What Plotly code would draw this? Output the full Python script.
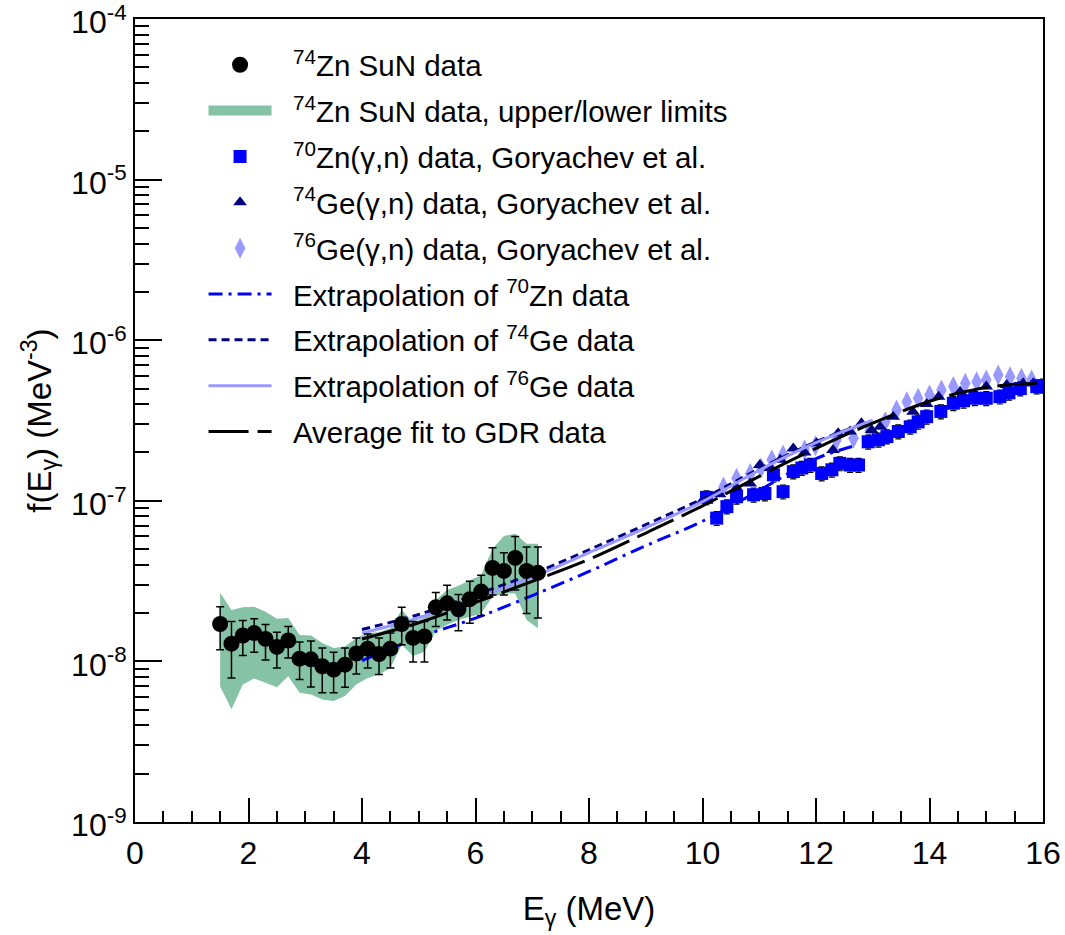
import plotly.graph_objects as go

# ---------------- data ----------------
# 74Zn SuN data
sun_E = [1.5, 1.7, 1.9, 2.1, 2.3, 2.5, 2.7, 2.9, 3.1, 3.3, 3.5, 3.7, 3.9, 4.1, 4.3,
         4.5, 4.7, 4.9, 5.1, 5.3, 5.5, 5.7, 5.9, 6.1, 6.3, 6.5, 6.7, 6.9, 7.1]
sun_f = [1.71e-8, 1.29e-8, 1.45e-8, 1.50e-8, 1.38e-8, 1.23e-8, 1.35e-8, 1.04e-8, 1.03e-8,
         9.33e-9, 8.88e-9, 9.54e-9, 1.12e-8, 1.20e-8, 1.11e-8, 1.20e-8, 1.71e-8, 1.40e-8,
         1.43e-8, 2.17e-8, 2.30e-8, 2.11e-8, 2.44e-8, 2.72e-8, 3.82e-8, 3.66e-8, 4.41e-8,
         3.66e-8, 3.56e-8]
sun_hi = [2.19e-8, 1.77e-8, 1.80e-8, 1.84e-8, 1.70e-8, 1.52e-8, 1.65e-8, 1.32e-8, 1.34e-8,
          1.21e-8, 1.14e-8, 1.21e-8, 1.40e-8, 1.48e-8, 1.40e-8, 1.50e-8, 2.17e-8, 1.77e-8,
          1.77e-8, 2.69e-8, 2.98e-8, 2.61e-8, 3.16e-8, 3.44e-8, 5.10e-8, 4.75e-8, 6.00e-8,
          5.15e-8, 5.15e-8]
sun_lo = [1.18e-8, 7.89e-9, 1.09e-8, 1.14e-8, 1.02e-8, 9.10e-9, 1.05e-8, 7.71e-9, 6.94e-9,
          6.37e-9, 6.37e-9, 6.91e-9, 8.36e-9, 9.10e-9, 8.28e-9, 9.10e-9, 1.27e-8, 9.91e-9,
          9.91e-9, 1.65e-8, 1.81e-8, 1.55e-8, 1.73e-8, 1.93e-8, 2.59e-8, 2.59e-8, 2.78e-8,
          1.99e-8, 1.86e-8]
# upper / lower limits band
band_up = [2.68e-8, 2.09e-8, 2.17e-8, 2.19e-8, 2.04e-8, 1.84e-8, 1.86e-8, 1.46e-8, 1.45e-8,
           1.30e-8, 1.21e-8, 1.24e-8, 1.40e-8, 1.50e-8, 1.52e-8, 1.61e-8, 2.09e-8, 1.75e-8,
           1.87e-8, 2.41e-8, 2.78e-8, 2.96e-8, 3.20e-8, 3.44e-8, 5.03e-8, 6.03e-8, 6.23e-8,
           5.40e-8, 5.40e-8]
band_lo = [7.01e-9, 5.03e-9, 7.18e-9, 7.82e-9, 7.35e-9, 6.91e-9, 8.08e-9, 6.37e-9, 6.22e-9,
           5.80e-9, 5.66e-9, 6.08e-9, 7.18e-9, 7.89e-9, 8.28e-9, 9.10e-9, 1.27e-8, 1.08e-8,
           1.15e-8, 1.54e-8, 1.69e-8, 1.81e-8, 1.90e-8, 1.99e-8, 2.53e-8, 2.65e-8, 2.65e-8,
           1.81e-8, 1.61e-8]

# 70Zn(g,n) Goryachev
zn70_E = [10.07, 10.25, 10.43, 10.6, 10.9, 11.1, 11.25, 11.42, 11.6, 11.75, 11.9, 12.1,
          12.28, 12.42, 12.6, 12.75, 12.92, 13.1, 13.25, 13.45, 13.66, 13.8, 13.95, 14.2,
          14.42, 14.6, 14.8, 15.0, 15.24, 15.4, 15.6, 15.89, 16.0]
zn70_f = [1.05e-7, 7.8e-8, 9.2e-8, 1.06e-7, 1.09e-7, 1.11e-7, 1.45e-7, 1.14e-7, 1.52e-7,
          1.60e-7, 1.67e-7, 1.48e-7, 1.56e-7, 1.71e-7, 1.67e-7, 1.67e-7, 2.33e-7, 2.40e-7,
          2.51e-7, 2.70e-7, 2.89e-7, 3.10e-7, 3.34e-7, 3.60e-7, 4.05e-7, 4.20e-7, 4.35e-7,
          4.35e-7, 4.45e-7, 4.70e-7, 5.00e-7, 5.14e-7, 5.20e-7]
# 74Ge(g,n) Goryachev
ge74_E = [10.0, 10.3, 10.6, 10.84, 11.01, 11.2, 11.37, 11.6, 11.8, 12.01, 12.3, 12.39,
          12.6, 12.8, 12.98, 13.13, 13.36, 13.71, 13.95, 14.16, 14.54, 15.0, 15.36, 15.65, 15.83]
ge74_f = [1.0e-7, 1.1e-7, 1.2e-7, 1.28e-7, 1.67e-7, 1.6e-7, 1.80e-7, 2.12e-7, 2.0e-7,
          2.28e-7, 2.07e-7, 2.63e-7, 2.7e-7, 3.04e-7, 2.76e-7, 2.89e-7, 3.34e-7, 3.59e-7,
          4.0e-7, 4.45e-7, 4.78e-7, 5.14e-7, 5.26e-7, 5.39e-7, 5.39e-7]
# 76Ge(g,n) Goryachev
ge76_E = [10.37, 10.6, 10.84, 11.03, 11.22, 11.42, 11.8, 11.99, 12.36, 12.66, 12.95, 13.22,
          13.42, 13.6, 13.8, 14.0, 14.21, 14.42, 14.63, 14.83, 15.0, 15.21, 15.42, 15.62, 15.8]
ge76_f = [1.22e-7, 1.38e-7, 1.48e-7, 1.60e-7, 1.80e-7, 1.93e-7, 2.07e-7, 2.20e-7, 2.39e-7,
          2.45e-7, 2.75e-7, 3.11e-7, 3.68e-7, 4.14e-7, 4.35e-7, 4.56e-7, 4.90e-7, 5.14e-7,
          5.39e-7, 5.52e-7, 5.65e-7, 6.07e-7, 5.93e-7, 5.79e-7, 5.65e-7]

# extrapolation / fit curves
zn70x_E = [4, 5, 6, 7, 8, 9, 10, 11, 12, 12.7]
zn70x_f = [1.01e-8, 1.41e-8, 1.86e-8, 2.57e-8, 3.63e-8, 5.25e-8, 7.46e-8, 1.16e-7, 1.83e-7, 2.21e-7]
ge74x_E = [4, 5, 6, 7, 8, 9, 10, 11, 12, 12.8]
ge74x_f = [1.58e-8, 1.96e-8, 2.60e-8, 3.50e-8, 4.95e-8, 7.10e-8, 1.03e-7, 1.58e-7, 2.33e-7, 2.98e-7]
ge76x_E = [4, 5, 6, 7, 8, 9, 10, 11, 12, 13]
ge76x_f = [1.50e-8, 1.87e-8, 2.48e-8, 3.35e-8, 4.75e-8, 6.79e-8, 9.89e-8, 1.55e-7, 2.30e-7, 3.18e-7]
avg_E = [4, 5, 6, 7, 8, 9, 10, 11, 12, 13, 14, 14.5, 15, 15.5, 16]
avg_f = [1.38e-8, 1.74e-8, 2.33e-8, 3.15e-8, 4.32e-8, 6.3e-8, 9.3e-8, 1.42e-7, 2.12e-7,
         3.05e-7, 4.17e-7, 4.67e-7, 5.08e-7, 5.31e-7, 5.41e-7]

y_ticks = [1e-9, 1e-8, 1e-7, 1e-6, 1e-5, 1e-4]
y_ticktext = ["10<sup>-9</sup>", "10<sup>-8</sup>", "10<sup>-7</sup>",
              "10<sup>-6</sup>", "10<sup>-5</sup>", "10<sup>-4</sup>"]

# ---------------- figure ----------------
FONT = "Liberation Sans, Arial, Helvetica, sans-serif"
GREEN = "#86c2a5"
BLUE = "#0000ff"
NAVY = "#000080"
LAV = "#9999ff"
PAD = "&nbsp;&nbsp;"

fig = go.Figure()

fig.add_trace(go.Scatter(x=sun_E, y=band_lo, mode="lines", line=dict(width=0),
                         showlegend=False, hoverinfo="skip", legendgroup="g2"))
fig.add_trace(go.Scatter(x=sun_E, y=band_up, mode="lines", line=dict(width=0),
                         fill="tonexty", fillcolor=GREEN, legendgroup="g2",
                         showlegend=False, hoverinfo="skip"))
# legend entry for the band (thick swatch)
fig.add_trace(go.Scatter(x=[None], y=[None], mode="lines", legendgroup="g2",
                         line=dict(color=GREEN, width=10),
                         name=PAD + "<sup>74</sup>Zn SuN data, upper/lower limits", legendrank=2))

fig.add_trace(go.Scatter(x=ge76_E, y=ge76_f, mode="markers", legendgroup="g5",
                         marker=dict(symbol="diamond-tall", size=15, color=LAV),
                         name=PAD + "<sup>76</sup>Ge(γ,n) data, Goryachev et al.", legendrank=5))
fig.add_trace(go.Scatter(x=ge74_E, y=ge74_f, mode="markers", legendgroup="g4",
                         marker=dict(symbol="triangle-up", size=12, color=NAVY),
                         name=PAD + "<sup>74</sup>Ge(γ,n) data, Goryachev et al.", legendrank=4))
fig.add_trace(go.Scatter(x=zn70_E, y=zn70_f, mode="markers", legendgroup="g3",
                         marker=dict(symbol="square", size=13, color=BLUE),
                         error_y=dict(type="percent", value=10, color="black", thickness=1.2, width=3),
                         name=PAD + "<sup>70</sup>Zn(γ,n) data, Goryachev et al.", legendrank=3))

fig.add_trace(go.Scatter(x=zn70x_E, y=zn70x_f, mode="lines", line_shape="spline", legendgroup="g6",
                         line=dict(color=BLUE, width=3, dash="14px,6px,3px,6px"),
                         name=PAD + "Extrapolation of <sup>70</sup>Zn data", legendrank=6))
fig.add_trace(go.Scatter(x=ge74x_E, y=ge74x_f, mode="lines", line_shape="spline", legendgroup="g7",
                         line=dict(color=NAVY, width=3, dash="8px,5px"),
                         name=PAD + "Extrapolation of <sup>74</sup>Ge data", legendrank=7))
fig.add_trace(go.Scatter(x=ge76x_E, y=ge76x_f, mode="lines", line_shape="spline", legendgroup="g8",
                         line=dict(color=LAV, width=3),
                         name=PAD + "Extrapolation of <sup>76</sup>Ge data", legendrank=8))
fig.add_trace(go.Scatter(x=avg_E, y=avg_f, mode="lines", line_shape="spline", legendgroup="g9",
                         line=dict(color="black", width=3, dash="40px,9px"),
                         name=PAD + "Average fit to GDR data", legendrank=9))

sun_plus = [h - v for h, v in zip(sun_hi, sun_f)]
sun_minus = [v - l for l, v in zip(sun_lo, sun_f)]
fig.add_trace(go.Scatter(x=sun_E, y=sun_f, mode="markers", legendgroup="g1",
                         marker=dict(symbol="circle", size=16, color="black"),
                         error_y=dict(type="data", symmetric=False, array=sun_plus,
                                      arrayminus=sun_minus, color="black", thickness=1.5, width=4),
                         name=PAD + "<sup>74</sup>Zn SuN data", legendrank=1))

fig.update_layout(
    width=1065, height=935,
    margin=dict(l=135, r=22, t=19, b=113, autoexpand=False),
    plot_bgcolor="white", paper_bgcolor="white",
    font=dict(family=FONT, color="black"),
    legend=dict(x=0.0755, y=0.975, xanchor="left", yanchor="top", traceorder="grouped",
                bgcolor="rgba(0,0,0,0)", font=dict(size=29.5, family=FONT),
                itemwidth=63, tracegroupgap=4.5),
)
fig.update_xaxes(
    range=[0, 16], showline=True, linecolor="black", linewidth=2, mirror=True,
    ticks="inside", ticklen=24, tickwidth=1.5, tickcolor="black", dtick=2, tick0=0,
    minor=dict(ticks="inside", ticklen=11, dtick=0.5, tickcolor="black", tickwidth=1.5),
    showgrid=False, zeroline=False, ticklabeloverflow="allow", automargin=False,
    ticklabelstandoff=2,
    tickfont=dict(size=32, family=FONT),
    title=dict(text="E<sub>γ</sub> (MeV)", font=dict(size=33, family=FONT), standoff=26),
)
fig.update_yaxes(
    type="log", range=[-9, -4], showline=True, linecolor="black", linewidth=2, mirror=True,
    ticks="inside", ticklen=27, tickwidth=1.5, tickcolor="black",
    tickvals=y_ticks, ticktext=y_ticktext, ticklabeloverflow="allow", automargin=False,
    ticklabelshift=3,
    minor=dict(ticks="inside", ticklen=14, dtick="D1", tickcolor="black", tickwidth=1.5),
    showgrid=False, zeroline=False,
    tickfont=dict(size=32, family=FONT),
    title=dict(text="f(E<sub>γ</sub>) (MeV<sup>-3</sup>)", font=dict(size=33, family=FONT), standoff=10),
)

fig.write_html("out.html")
